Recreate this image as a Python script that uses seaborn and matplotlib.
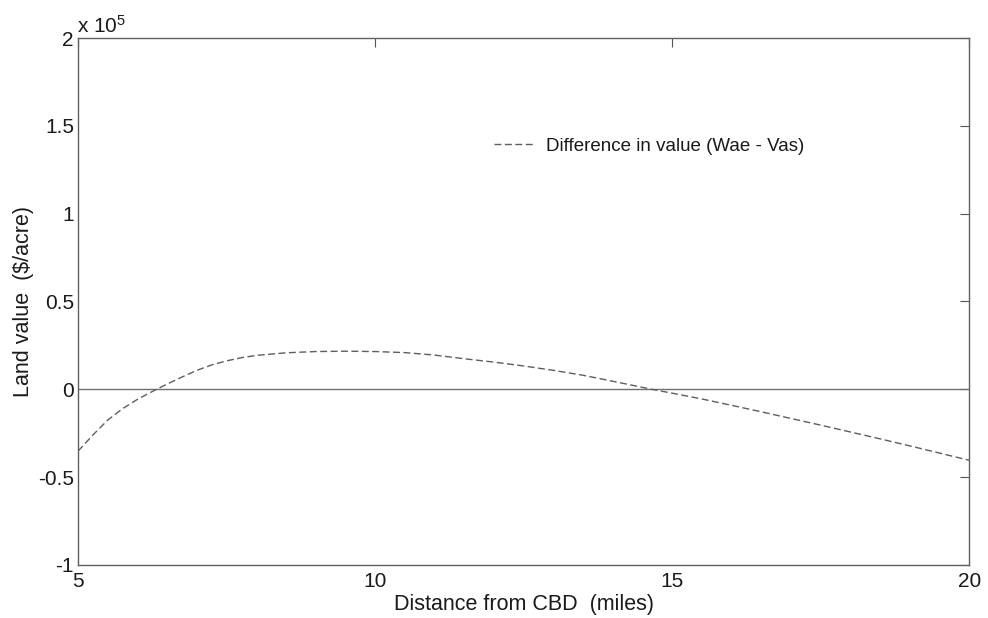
import pandas as pd
import matplotlib
matplotlib.use("Agg")
import matplotlib.pyplot as plt
import seaborn as sns

# Values (land value difference, $/acre)
distance = [5.0, 5.25, 5.5, 5.75, 6.0, 6.32, 6.5, 6.75, 7.0, 7.25, 7.5, 7.75,
            8.0, 8.5, 9.0, 9.5, 10.0, 10.5, 11.0, 11.5, 12.0, 12.5, 13.0,
            13.5, 14.0, 14.66, 15.0, 15.5, 16.0, 16.5, 17.0, 17.5, 18.0,
            18.5, 19.0, 19.5, 20.0]
diff_value = [-35200, -26000, -17500, -11000, -5700, 0, 3000, 7000, 10800,
              13900, 16200, 18000, 19300, 20800, 21500, 21700, 21500, 20900,
              19500, 17400, 15500, 13300, 10800, 8000, 4600, 0, -2200, -5500,
              -9100, -12800, -16600, -20400, -24300, -28200, -32200, -36300,
              -40400]
x_ticks = [5, 10, 15, 20]
y_ticks = [-100000, -50000, 0, 50000, 100000, 150000, 200000]
y_tick_labels = ["-1", "-0.5", "0", "0.5", "1", "1.5", "2"]

df = pd.DataFrame({"Distance": distance, "Diff": diff_value})

sns.set_style("white")
plt.rcParams["font.family"] = ["Liberation Sans", "DejaVu Sans"]
plt.rcParams["mathtext.default"] = "regular"

fig = plt.figure(figsize=(9.88, 6.18), dpi=100)
ax = fig.add_axes([0.079, 0.0858, 0.902, 0.8527])

grey = "#5e5e5e"
ax.axhline(0, color="#707070", lw=1.0, zorder=1)
sns.lineplot(data=df, x="Distance", y="Diff", ax=ax, color=grey, lw=1.0,
             dashes=False, label="Difference in value (Wae - Vas)", zorder=2)
ax.lines[-1].set_dashes((5, 2.5))

ax.set_xlim(5, 20)
ax.set_ylim(-100000, 200000)
ax.set_xticks(x_ticks)
ax.set_xticklabels([str(t) for t in x_ticks])
ax.set_yticks(y_ticks)
ax.set_yticklabels(y_tick_labels)
ax.tick_params(direction="in", length=6.5, width=0.8, color="#555555",
               labelsize=15, top=True, right=True, labelcolor="#1a1a1a")
ax.tick_params(axis="x", pad=5)
ax.tick_params(axis="y", pad=3)

for s in ax.spines.values():
    s.set_visible(True)
    s.set_color("#606060")
    s.set_linewidth(1.0)

ax.set_xlabel("Distance from CBD  (miles)", fontsize=15.5, color="#1a1a1a", labelpad=2)
ax.set_ylabel(r"Land value  (\$/acre)", fontsize=15.5, color="#1a1a1a", labelpad=2.5)

fig.text(0.078, 1 - 33 / 618, r"x 10$^{5}$", fontsize=15, color="#1a1a1a",
         ha="left", va="baseline")

leg = ax.legend(loc="center left", bbox_to_anchor=(0.448, 0.795), frameon=False,
                fontsize=13.5, handlelength=2.13, handletextpad=0.64)
for t in leg.get_texts():
    t.set_color("#1a1a1a")

fig.savefig("out.png", dpi=100)
